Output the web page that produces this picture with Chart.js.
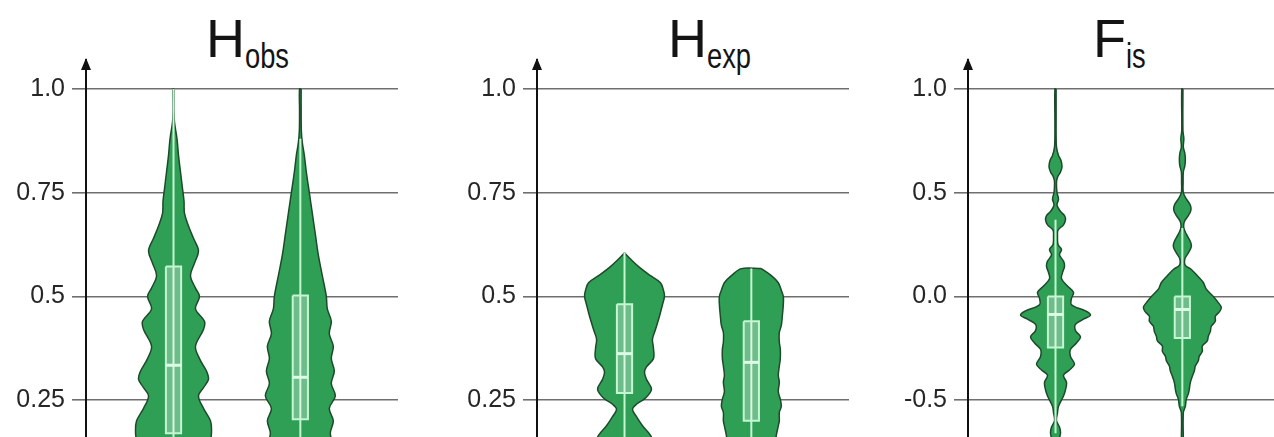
<!DOCTYPE html>
<html>
<head>
<meta charset="utf-8">
<script src="https://cdn.jsdelivr.net/npm/chart.js@4.4.1/dist/chart.umd.min.js"></script>
<style>
  html, body { margin: 0; padding: 0; background: #ffffff; overflow: hidden; }
  body { width: 1274px; height: 437px; position: relative; }
  .panel { position: absolute; top: 0; }
  .ttl { position: absolute; top: 11px; font-family: 'Liberation Sans', Arial, sans-serif; font-size: 54px; line-height: 54px; color: #141414; white-space: nowrap; }
  .ttl .s { display: inline-block; font-family: 'Liberation Sans', Arial, sans-serif; font-size: 35px; line-height: 0; position: relative; top: 11px; transform: scaleX(0.78); transform-origin: 0 0; }
</style>
</head>
<body>
<div class="ttl" style="left:206px">H<span class="s">obs</span></div>
<div class="ttl" style="left:668px">H<span class="s">exp</span></div>
<div class="ttl" style="left:1093px">F<span class="s">is</span></div>
<canvas id="c1" class="panel" style="left:0px" width="400" height="437"></canvas>
<canvas id="c2" class="panel" style="left:451px" width="400" height="437"></canvas>
<canvas id="c3" class="panel" style="left:882px" width="400" height="437"></canvas>
<script>
// ---------------- DATA ----------------
// groups (two violins per panel) at category positions 0 and 1
const groupPositions = [0, 1];

// H_obs
const hobsTicks = [0.25, 0.5, 0.75, 1.0];
const hobsTickLabels = ['0.25', '0.5', '0.75', '1.0'];
const hobsLevelsA = [1.0, 0.95, 0.92, 0.88, 0.84, 0.80, 0.76, 0.73, 0.70, 0.67, 0.64, 0.61, 0.58, 0.55, 0.52, 0.50, 0.47, 0.44, 0.42, 0.38, 0.35, 0.32, 0.30, 0.28, 0.26, 0.23, 0.20, 0.17, 0.14, 0.10];
const hobsDensA  = [0.5, 0.5, 1, 3.5, 5, 7, 9, 10.5, 11, 15, 20, 25, 21, 17, 22, 26, 22, 31, 30, 22, 26, 33, 35, 30, 25, 30, 37, 38, 36, 34];
const hobsLevelsB = [1.0, 0.95, 0.90, 0.87, 0.84, 0.80, 0.75, 0.70, 0.65, 0.60, 0.55, 0.50, 0.47, 0.44, 0.41, 0.38, 0.35, 0.32, 0.29, 0.26, 0.23, 0.20, 0.17, 0.14, 0.10];
const hobsDensB  = [0.8, 0.8, 1, 2, 4, 6, 9, 12, 15, 18, 22, 26, 27, 31, 29, 33, 31, 34, 31, 35, 29, 33, 30, 33, 32];
const hobsQ1 = [0.17, 0.204];
const hobsMedian = [0.334, 0.305];
const hobsQ3 = [0.572, 0.502];
const hobsWhiskLo = [0.0, 0.0];
const hobsWhiskHi = [1.0, 0.88];

// H_exp
const hexpTicks = [0.25, 0.5, 0.75, 1.0];
const hexpTickLabels = ['0.25', '0.5', '0.75', '1.0'];
const hexpLevelsA = [0.605, 0.59, 0.57, 0.55, 0.533, 0.515, 0.50, 0.48, 0.452, 0.42, 0.397, 0.375, 0.35, 0.33, 0.317, 0.30, 0.276, 0.255, 0.24, 0.228, 0.21, 0.188, 0.165, 0.13, 0.10];
const hexpDensA  = [0, 6, 15, 26, 36, 39, 40, 38, 35, 31, 28, 29, 29, 22, 20, 22, 27, 21, 12, 8, 12, 18, 26, 32, 34];
const hexpLevelsB = [0.567, 0.55, 0.533, 0.515, 0.50, 0.48, 0.452, 0.43, 0.413, 0.39, 0.373, 0.35, 0.332, 0.31, 0.293, 0.27, 0.252, 0.235, 0.22, 0.20, 0.188, 0.165, 0.13, 0.10];
const hexpDensB  = [10, 20, 27, 30, 32, 32, 31, 30, 28, 28, 29, 29, 28, 27, 28, 27, 29, 30, 28, 28, 27, 25, 23, 20];
const hexpQ1 = [0.267, 0.20];
const hexpMedian = [0.362, 0.341];
const hexpQ3 = [0.481, 0.44];
const hexpWhiskLo = [0.0, 0.0];
const hexpWhiskHi = [0.605, 0.567];

// F_is
const fisTicks = [-0.5, 0.0, 0.5, 1.0];
const fisTickLabels = ['-0.5', '0.0', '0.5', '1.0'];
const fisLevelsA = [1.0, 0.85, 0.78, 0.72, 0.68, 0.655, 0.625, 0.60, 0.575, 0.55, 0.50, 0.47, 0.44, 0.41, 0.39, 0.37, 0.345, 0.32, 0.29, 0.25, 0.226, 0.20, 0.17, 0.145, 0.115, 0.085, 0.05, 0.02, -0.01, -0.04, -0.07, -0.09, -0.11, -0.135, -0.165, -0.195, -0.225, -0.255, -0.29, -0.327, -0.355, -0.38, -0.415, -0.45, -0.48, -0.53, -0.56, -0.60, -0.63, -0.66, -0.70, -0.75];
const fisDensA  = [0.6, 0.6, 0.6, 1, 3, 5.5, 6.5, 5, 2, 1, 1.5, 3, 1.5, 5, 9, 10, 8, 2.5, 2, 2.5, 6, 4, 8, 9, 7, 6, 12, 18, 16, 16, 30, 35, 28, 20, 20, 25, 21, 15, 15, 19, 14, 8, 11, 10, 8, 3, 2, 1, 4, 5, 3, 2];
const fisLevelsB = [1.0, 0.80, 0.76, 0.72, 0.69, 0.66, 0.63, 0.60, 0.55, 0.50, 0.47, 0.44, 0.415, 0.39, 0.36, 0.33, 0.30, 0.265, 0.24, 0.21, 0.18, 0.15, 0.13, 0.10, 0.067, 0.035, 0.0, -0.03, -0.053, -0.075, -0.096, -0.12, -0.144, -0.17, -0.192, -0.215, -0.24, -0.265, -0.288, -0.31, -0.336, -0.36, -0.385, -0.415, -0.447, -0.47, -0.495, -0.53, -0.56, -0.70, -0.75];
const fisDensB  = [0.6, 0.6, 1.5, 1, 2.5, 3, 2.5, 1, 0.8, 1, 4, 8, 8.5, 6, 2, 1.5, 4, 8, 9, 6, 2.5, 3, 9, 15, 21, 24, 31, 36, 39, 37, 33, 33, 29, 28, 26, 25, 20, 20, 17, 16, 13, 12, 10, 8, 7, 6, 4, 3, 1, 1, 1];
const fisQ1 = [-0.247, -0.20];
const fisMedian = [-0.087, -0.063];
const fisQ3 = [0.0, 0.0];
const fisWhiskLo = [-0.66, -0.53];
const fisWhiskHi = [0.37, 0.33];

// ---------------- STYLE ----------------
const DENS_TO_X = 1 / 127;   // x-units per density unit
const BOX_HALF = 0.06;       // x-units
const X_MIN = -0.69, X_MAX = 1.77;
const VIOLIN_FILL = '#2f9f56';
const VIOLIN_EDGE = '#1c4a2a';
const BOX_EDGE = '#c4f6d2';
const BOX_FILL = 'rgba(255,255,255,0.30)';
const MEDIAN_COL = '#dcfce5';
const GRID_COL = '#6f6f6f';
const TICK_FONT = { family: "'Liberation Sans', Arial, sans-serif", size: 25 };

function violinPoints(center, levels, dens) {
  const right = levels.map((v, i) => ({ x: center + dens[i] * DENS_TO_X, y: v }));
  const left = levels.map((v, i) => ({ x: center - dens[i] * DENS_TO_X, y: v })).reverse();
  const pts = right.concat(left);
  pts.push({ x: right[0].x, y: right[0].y });
  return pts;
}

function groupDatasets(center, levels, dens, q1, med, q3, lo, hi) {
  return [
    { data: violinPoints(center, levels, dens), showLine: true, tension: 0.35, fill: 'shape',
      backgroundColor: VIOLIN_FILL, borderColor: VIOLIN_EDGE, borderWidth: 1.5, pointRadius: 0, order: 4 },
    { data: [{ x: center, y: hi }, { x: center, y: lo }], showLine: true, tension: 0,
      borderColor: BOX_EDGE, borderWidth: 2, pointRadius: 0, fill: false, order: 3 },
    { data: [{ x: center - BOX_HALF, y: q3 }, { x: center + BOX_HALF, y: q3 }, { x: center + BOX_HALF, y: q1 },
             { x: center - BOX_HALF, y: q1 }, { x: center - BOX_HALF, y: q3 }],
      showLine: true, tension: 0, fill: 'shape', backgroundColor: BOX_FILL, borderColor: BOX_EDGE,
      borderWidth: 2, pointRadius: 0, order: 2 },
    { data: [{ x: center - BOX_HALF, y: med }, { x: center + BOX_HALF, y: med }], showLine: true, tension: 0,
      borderColor: MEDIAN_COL, borderWidth: 3, pointRadius: 0, fill: false, order: 1 }
  ];
}

const arrowPlugin = {
  id: 'axisArrow',
  afterDraw(chart) {
    const ctx = chart.ctx;
    const x = chart.scales.y.right;
    const top = chart.chartArea.top;
    ctx.save();
    ctx.fillStyle = '#111';
    ctx.beginPath();
    ctx.moveTo(x, top - 2);
    ctx.lineTo(x - 5, top + 10);
    ctx.lineTo(x + 5, top + 10);
    ctx.closePath();
    ctx.fill();
    ctx.restore();
  }
};

function makePanel(id, panel) {
  const datasets = [];
  groupPositions.forEach((c, g) => {
    datasets.push(...groupDatasets(c, panel.levels[g], panel.dens[g], panel.q1[g], panel.med[g], panel.q3[g], panel.lo[g], panel.hi[g]));
  });
  new Chart(document.getElementById(id), {
    type: 'scatter',
    data: { datasets },
    options: {
      responsive: false,
      animation: false,
      events: [],
      layout: { padding: { top: 60, bottom: 0, left: 0, right: 2 } },
      plugins: { legend: { display: false }, tooltip: { enabled: false }, title: { display: false } },
      scales: {
        x: { type: 'linear', min: X_MIN, max: X_MAX, display: false },
        y: {
          type: 'linear', min: panel.yMin, max: panel.yMax,
          afterBuildTicks: s => { s.ticks = panel.ticks.map(v => ({ value: v })); },
          afterFit: s => { s.width = 86; s.paddingTop = 0; s.paddingBottom = 0; },
          ticks: { callback: (v, i) => panel.labels[i], color: '#262626', font: TICK_FONT, padding: 7 },
          grid: { color: GRID_COL, lineWidth: 1.6, tickLength: 14, drawTicks: true },
          border: { display: true, color: '#111', width: 2 }
        }
      }
    },
    plugins: [arrowPlugin]
  });
}

makePanel('c1', { ticks: hobsTicks, labels: hobsTickLabels, yMin: 0.161, yMax: 1.07,
  levels: [hobsLevelsA, hobsLevelsB], dens: [hobsDensA, hobsDensB],
  q1: hobsQ1, med: hobsMedian, q3: hobsQ3, lo: hobsWhiskLo, hi: hobsWhiskHi });
makePanel('c2', { ticks: hexpTicks, labels: hexpTickLabels, yMin: 0.161, yMax: 1.07,
  levels: [hexpLevelsA, hexpLevelsB], dens: [hexpDensA, hexpDensB],
  q1: hexpQ1, med: hexpMedian, q3: hexpQ3, lo: hexpWhiskLo, hi: hexpWhiskHi });
makePanel('c3', { ticks: fisTicks, labels: fisTickLabels, yMin: -0.678, yMax: 1.14,
  levels: [fisLevelsA, fisLevelsB], dens: [fisDensA, fisDensB],
  q1: fisQ1, med: fisMedian, q3: fisQ3, lo: fisWhiskLo, hi: fisWhiskHi });
</script>
</body>
</html>
